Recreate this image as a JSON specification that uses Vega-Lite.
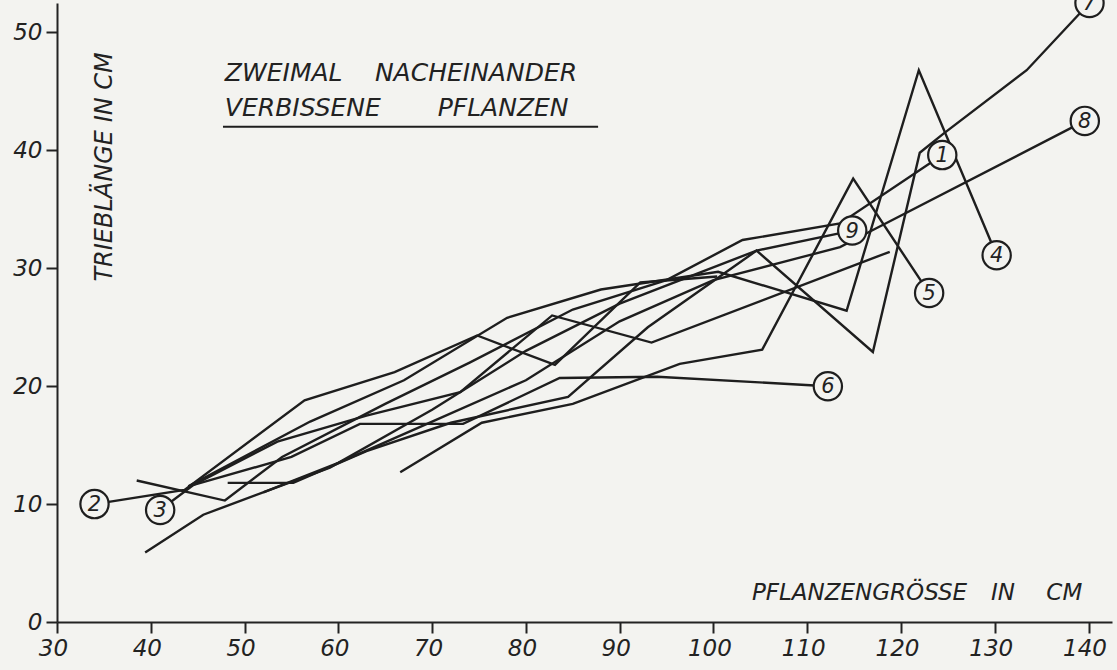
{
  "$schema": "https://vega.github.io/schema/vega-lite/v6.json",
  "width": 1055,
  "height": 619,
  "autosize": {"type": "none"},
  "padding": {"left": 57, "top": 3, "right": 5, "bottom": 48},
  "background": "#f3f3f0",
  "config": {
    "view": {"stroke": null},
    "axis": {
      "grid": false,
      "domainColor": "#222",
      "domainWidth": 2,
      "tickColor": "#222",
      "tickWidth": 2,
      "tickSize": 11,
      "labelFont": "DejaVu Sans",
      "labelFontStyle": "italic",
      "labelFontSize": 23,
      "labelColor": "#222",
      "labelFlush": false,
      "labelOverlap": false
    },
    "text": {"font": "DejaVu Sans", "fontStyle": "italic", "color": "#222"}
  },
  "datasets": {
    "lines": [
      {"s": "1", "x": 38.5, "y": 12.0}, {"s": "1", "x": 47.9, "y": 10.3}, {"s": "1", "x": 54.0, "y": 14.0}, {"s": "1", "x": 65, "y": 18.5}, {"s": "1", "x": 74, "y": 22.0}, {"s": "1", "x": 85, "y": 26.5}, {"s": "1", "x": 95, "y": 29.0}, {"s": "1", "x": 103.1, "y": 32.4}, {"s": "1", "x": 113.5, "y": 33.8}, {"s": "1", "x": 124.4, "y": 39.6},
      {"s": "2", "x": 34, "y": 10}, {"s": "2", "x": 43.6, "y": 11.2}, {"s": "2", "x": 56.4, "y": 18.8}, {"s": "2", "x": 66, "y": 21.2}, {"s": "2", "x": 74.8, "y": 24.3}, {"s": "2", "x": 83.1, "y": 21.8}, {"s": "2", "x": 92.2, "y": 28.8}, {"s": "2", "x": 100.4, "y": 29.3},
      {"s": "3", "x": 41, "y": 9.5}, {"s": "3", "x": 44.5, "y": 11.6}, {"s": "3", "x": 53.5, "y": 15.3}, {"s": "3", "x": 63, "y": 17.5}, {"s": "3", "x": 73, "y": 19.5}, {"s": "3", "x": 82.8, "y": 26.0}, {"s": "3", "x": 93.4, "y": 23.7}, {"s": "3", "x": 118.8, "y": 31.4},
      {"s": "4", "x": 44, "y": 11.5}, {"s": "4", "x": 57, "y": 17}, {"s": "4", "x": 67, "y": 20.5}, {"s": "4", "x": 78, "y": 25.8}, {"s": "4", "x": 88, "y": 28.2}, {"s": "4", "x": 100.5, "y": 29.7}, {"s": "4", "x": 114.2, "y": 26.4}, {"s": "4", "x": 121.9, "y": 46.8}, {"s": "4", "x": 130.2, "y": 31.1},
      {"s": "5", "x": 66.6, "y": 12.7}, {"s": "5", "x": 75.3, "y": 16.9}, {"s": "5", "x": 85, "y": 18.5}, {"s": "5", "x": 96.4, "y": 21.9}, {"s": "5", "x": 105.2, "y": 23.1}, {"s": "5", "x": 114.9, "y": 37.6}, {"s": "5", "x": 123, "y": 27.9},
      {"s": "6", "x": 44, "y": 11.5}, {"s": "6", "x": 55, "y": 14}, {"s": "6", "x": 62.3, "y": 16.8}, {"s": "6", "x": 73.3, "y": 16.8}, {"s": "6", "x": 83.6, "y": 20.7}, {"s": "6", "x": 94, "y": 20.8}, {"s": "6", "x": 112.2, "y": 20},
      {"s": "7", "x": 48.2, "y": 11.8}, {"s": "7", "x": 55.2, "y": 11.8}, {"s": "7", "x": 63, "y": 14.5}, {"s": "7", "x": 72, "y": 16.9}, {"s": "7", "x": 84.5, "y": 19.1}, {"s": "7", "x": 93, "y": 25}, {"s": "7", "x": 104.6, "y": 31.5}, {"s": "7", "x": 117, "y": 22.9}, {"s": "7", "x": 122, "y": 39.8}, {"s": "7", "x": 124.5, "y": 41.4}, {"s": "7", "x": 133.4, "y": 46.8}, {"s": "7", "x": 140.1, "y": 52.5},
      {"s": "8", "x": 52, "y": 11}, {"s": "8", "x": 60, "y": 13.5}, {"s": "8", "x": 70, "y": 17}, {"s": "8", "x": 80, "y": 20.5}, {"s": "8", "x": 90, "y": 25.5}, {"s": "8", "x": 100, "y": 29}, {"s": "8", "x": 109.2, "y": 30.9}, {"s": "8", "x": 113.5, "y": 31.8}, {"s": "8", "x": 116.9, "y": 33.2}, {"s": "8", "x": 139.6, "y": 42.5},
      {"s": "9", "x": 39.4, "y": 5.9}, {"s": "9", "x": 45.6, "y": 9.1}, {"s": "9", "x": 59.1, "y": 13.1}, {"s": "9", "x": 70, "y": 18}, {"s": "9", "x": 80, "y": 23}, {"s": "9", "x": 90, "y": 27}, {"s": "9", "x": 104.6, "y": 31.5}, {"s": "9", "x": 114.8, "y": 33.2}
    ],
    "labels": [
      {"s": "1", "x": 124.4, "y": 39.6},
      {"s": "2", "x": 34, "y": 10},
      {"s": "3", "x": 41, "y": 9.5},
      {"s": "4", "x": 130.2, "y": 31.1},
      {"s": "5", "x": 123, "y": 27.9},
      {"s": "6", "x": 112.2, "y": 20},
      {"s": "7", "x": 140.1, "y": 52.5},
      {"s": "8", "x": 139.6, "y": 42.5},
      {"s": "9", "x": 114.8, "y": 33.2}
    ],
    "one": [{}]
  },
  "layer": [
    {
      "data": {"name": "lines"},
      "mark": {"type": "line", "color": "#1e1e1e", "strokeWidth": 2.4},
      "encoding": {
        "x": {"field": "x", "type": "quantitative", "scale": {"domain": [30, 142.5], "nice": false, "zero": false},
              "axis": {"values": [30, 40, 50, 60, 70, 80, 90, 100, 110, 120, 130, 140], "title": null, "labelPadding": 4, "labelOffset": -4}},
        "y": {"field": "y", "type": "quantitative", "scale": {"domain": [0, 52.5], "nice": false},
              "axis": {"values": [0, 10, 20, 30, 40, 50], "title": null, "labelPadding": 4}},
        "detail": {"field": "s"}
      }
    },
    {
      "data": {"name": "labels"},
      "mark": {"type": "point", "shape": "circle", "size": 800, "filled": false, "fill": "#f3f3f0", "fillOpacity": 1, "stroke": "#1e1e1e", "strokeWidth": 2.2, "opacity": 1},
      "encoding": {"x": {"field": "x", "type": "quantitative"}, "y": {"field": "y", "type": "quantitative"}}
    },
    {
      "data": {"name": "labels"},
      "mark": {"type": "text", "fontSize": 21, "align": "center", "baseline": "middle", "dy": 1},
      "encoding": {"x": {"field": "x", "type": "quantitative"}, "y": {"field": "y", "type": "quantitative"}, "text": {"field": "s"}}
    },
    {"data": {"name": "one"}, "mark": {"type": "text", "align": "left", "baseline": "middle", "fontSize": 25}, "encoding": {"x": {"datum": 47.9}, "y": {"datum": 46.6}, "text": {"value": "ZWEIMAL"}}},
    {"data": {"name": "one"}, "mark": {"type": "text", "align": "left", "baseline": "middle", "fontSize": 25}, "encoding": {"x": {"datum": 63.9}, "y": {"datum": 46.6}, "text": {"value": "NACHEINANDER"}}},
    {"data": {"name": "one"}, "mark": {"type": "text", "align": "left", "baseline": "middle", "fontSize": 25}, "encoding": {"x": {"datum": 47.9}, "y": {"datum": 43.6}, "text": {"value": "VERBISSENE"}}},
    {"data": {"name": "one"}, "mark": {"type": "text", "align": "left", "baseline": "middle", "fontSize": 25}, "encoding": {"x": {"datum": 70.6}, "y": {"datum": 43.6}, "text": {"value": "PFLANZEN"}}},
    {"data": {"name": "one"}, "mark": {"type": "rule", "color": "#1e1e1e", "strokeWidth": 2}, "encoding": {"x": {"datum": 47.7}, "x2": {"datum": 87.7}, "y": {"datum": 42.0}}},
    {"data": {"name": "one"}, "mark": {"type": "text", "align": "left", "baseline": "middle", "fontSize": 23}, "encoding": {"x": {"datum": 104.1}, "y": {"datum": 2.46}, "text": {"value": "PFLANZENGRÖSSE"}}},
    {"data": {"name": "one"}, "mark": {"type": "text", "align": "left", "baseline": "middle", "fontSize": 23}, "encoding": {"x": {"datum": 129.6}, "y": {"datum": 2.46}, "text": {"value": "IN"}}},
    {"data": {"name": "one"}, "mark": {"type": "text", "align": "left", "baseline": "middle", "fontSize": 23}, "encoding": {"x": {"datum": 135.5}, "y": {"datum": 2.46}, "text": {"value": "CM"}}},
    {"data": {"name": "one"}, "mark": {"type": "text", "align": "center", "baseline": "middle", "fontSize": 24, "angle": 270}, "encoding": {"x": {"datum": 35.1}, "y": {"datum": 38.6}, "text": {"value": "TRIEBLÄNGE IN CM"}}}
  ]
}
